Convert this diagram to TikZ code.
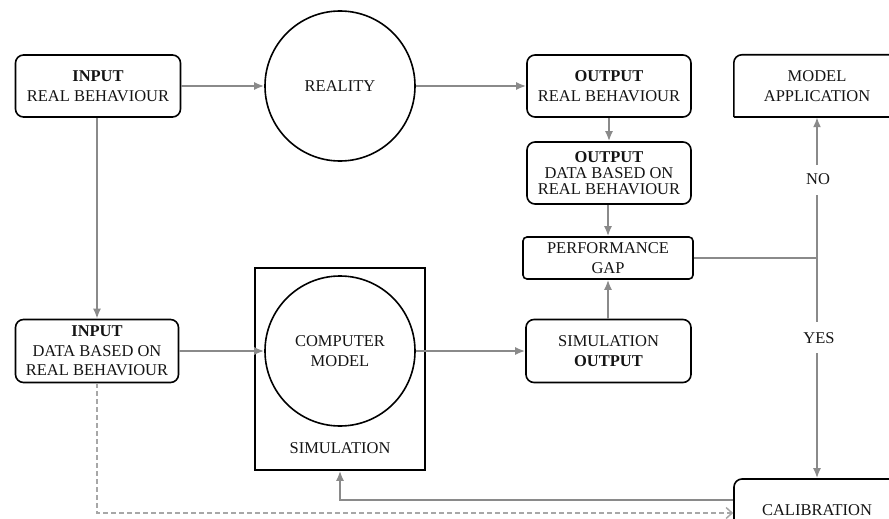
\documentclass[tikz,border=0pt]{standalone}
\usepackage{fontspec}
\setmainfont{Liberation Serif}
\usetikzlibrary{arrows.meta}
\definecolor{conn}{RGB}{138,138,138}
\definecolor{ink}{RGB}{20,20,20}
\begin{document}
\begin{tikzpicture}[x=1pt,y=-1pt,
  every node/.style={font=\fontsize{16.5}{19.5}\selectfont, text=ink, align=center, inner sep=0pt},
  rbox/.style={draw=black, line width=1.6pt, rounded corners=8pt, minimum width=#1},
  rbox/.default=165pt,
  circ/.style={draw=black, line width=1.6pt, circle, minimum size=150pt},
  link/.style={draw=conn, line width=1.8pt, -{Latex[length=10pt,width=8pt]}},
  plain/.style={draw=conn, line width=1.8pt},
  dlink/.style={draw=conn!75, line width=1.5pt, dash pattern=on 5pt off 3pt, -{Straight Barb[length=6pt,width=11pt]}},
]
\useasboundingbox (0,0) rectangle (889,519);

% top row
\node[rbox, minimum height=62pt] (inrb) at (98,86) {\textbf{INPUT}\\REAL BEHAVIOUR};
\node[circ] (reality) at (340,86) {REALITY};
\node[rbox=164pt, minimum height=62pt] (outrb) at (609,86) {\textbf{OUTPUT}\\REAL BEHAVIOUR};
\node[minimum width=166pt, minimum height=62pt] (modelapp) at (817,86) {MODEL\\APPLICATION};
\draw[line width=1.6pt, rounded corners=8pt] (modelapp.south west) -- (modelapp.north west) -- (modelapp.north east);
\draw[line width=1.6pt] (modelapp.south west) -- (modelapp.south east);

% right column
\node[rbox=164pt, minimum height=62pt, font=\fontsize{16.5}{16}\selectfont] (outdata) at (609,173) {\textbf{OUTPUT}\\DATA BASED ON\\REAL BEHAVIOUR};
\node[rbox=170pt, minimum height=42pt, rounded corners=4pt] (pgap) at (608,258) {PERFORMANCE\\GAP};
\node[rbox, minimum height=63pt] (simout) at (608.5,351) {SIMULATION\\\textbf{OUTPUT}};

% left and middle of the lower row
\node[rbox=163pt, minimum height=63pt] (indata) at (97,351) {\textbf{INPUT}\\DATA BASED ON\\REAL BEHAVIOUR};
\node[draw=black, line width=1.6pt, minimum width=170pt, minimum height=202pt] (simbox) at (340,369) {};
\node[circ] (cmodel) at (340,351) {COMPUTER\\MODEL};
\node (simlabel) at (340,448) {SIMULATION};

% calibration
\node[rbox=166pt, minimum height=64pt] (calib) at (817,511) {};
\node (caliblabel) at (817,510) {CALIBRATION};

% decision labels
\node (no) at (818,179) {NO};
\node (yes) at (819,338) {YES};
\coordinate (junc) at (817,258);

% connectors
\draw[link] (inrb.east) -- (reality.west);
\draw[link] (reality.east) -- (outrb.west);
\draw[link] (outrb.south -| outdata.north) -- (outdata.north);
\draw[link] (outdata.south -| pgap.north) -- (pgap.north);
\draw[link] (simout.north -| pgap.south) -- (pgap.south);
\draw[link] (inrb.south -| indata.north) -- (indata.north);
\draw[link] (indata.east) -- (cmodel.west);
\draw[link] (cmodel.east) -- (simout.west);
\draw[plain] (pgap.east |- junc) -- (junc);
\draw[plain] (junc) -- (junc |- 0,195);
\draw[link] (junc |- 0,165) -- (modelapp.south);
\draw[plain] (junc) -- (junc |- 0,322);
\draw[link] (junc |- 0,353) -- (calib.north);
\draw[link] (calib.west |- 0,500) -| (simbox.south);
\draw[dlink] (indata.south) |- (calib.west |- 0,513);
\end{tikzpicture}
\end{document}
